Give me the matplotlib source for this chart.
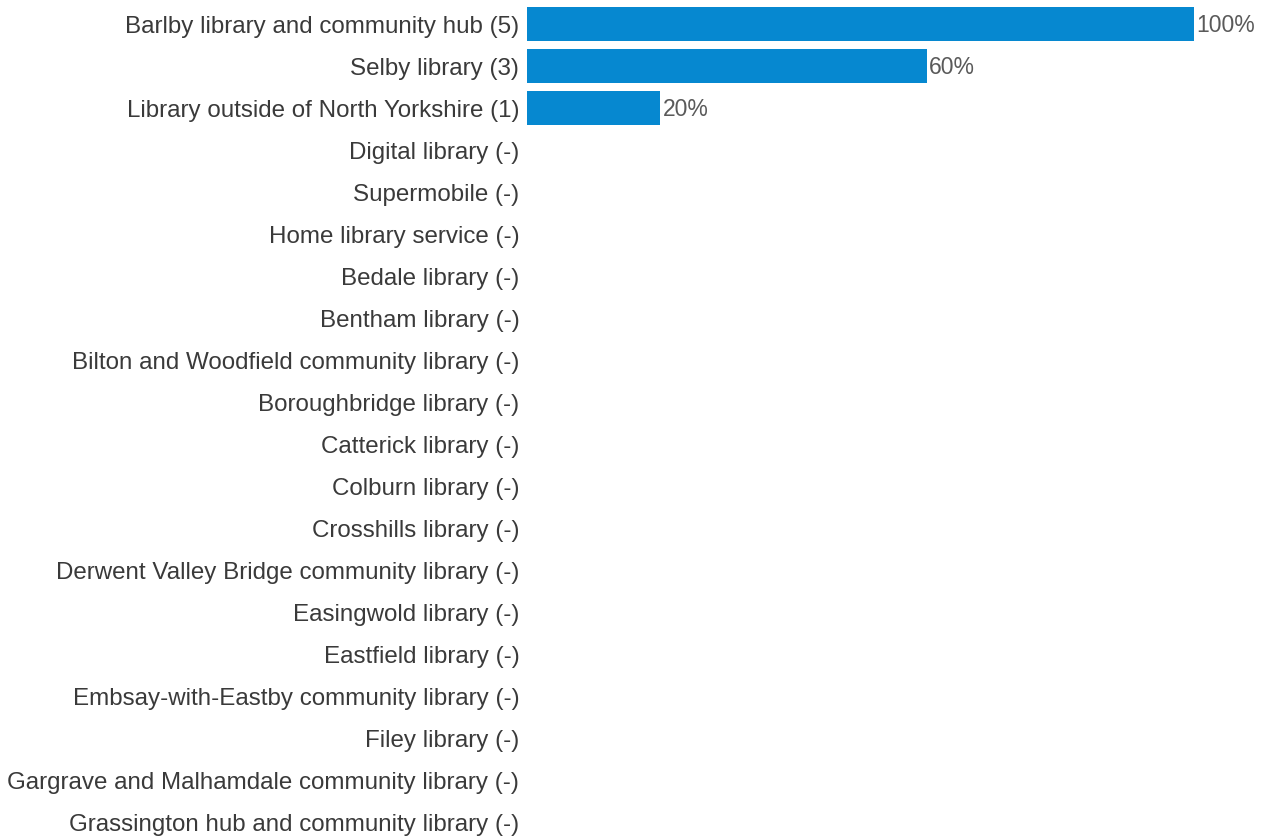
import matplotlib
matplotlib.use("Agg")
import matplotlib.pyplot as plt

categories = [
    "Barlby library and community hub (5)",
    "Selby library (3)",
    "Library outside of North Yorkshire (1)",
    "Digital library (-)",
    "Supermobile (-)",
    "Home library service (-)",
    "Bedale library (-)",
    "Bentham library (-)",
    "Bilton and Woodfield community library (-)",
    "Boroughbridge library (-)",
    "Catterick library (-)",
    "Colburn library (-)",
    "Crosshills library (-)",
    "Derwent Valley Bridge community library (-)",
    "Easingwold library (-)",
    "Eastfield library (-)",
    "Embsay-with-Eastby community library (-)",
    "Filey library (-)",
    "Gargrave and Malhamdale community library (-)",
    "Grassington hub and community library (-)",
]
values = [100, 60, 20] + [0] * 17

plt.rcParams['font.family'] = ['Liberation Sans', 'DejaVu Sans']

fig = plt.figure(figsize=(12.64, 8.36), dpi=100)
W, H = 1264, 836
x0, x1 = 527, 1194
ax = fig.add_axes([x0 / W, 0, (x1 - x0) / W, 1])

spacing = 42.05
first = 24
ypos = list(range(len(categories)))
ax.barh(ypos, values, height=34 / spacing, color="#0688d0")
ax.set_xlim(0, 100)
ax.set_ylim((H - first) / spacing, -first / spacing)

ax.set_yticks(ypos)
ax.set_yticklabels(categories, fontsize=17.4, color="#3a3a3a")
ax.tick_params(axis='y', length=0, pad=5.5)
ax.set_xticks([])
for s in ax.spines.values():
    s.set_visible(False)

for y, v in zip(ypos, values):
    if v > 0:
        ax.text(v + 0.3, y + 0.03, f"{v}%", va="center", ha="left", fontsize=16.5, color="#5a5a5a", clip_on=False)

fig.savefig("out.png", dpi=100)
